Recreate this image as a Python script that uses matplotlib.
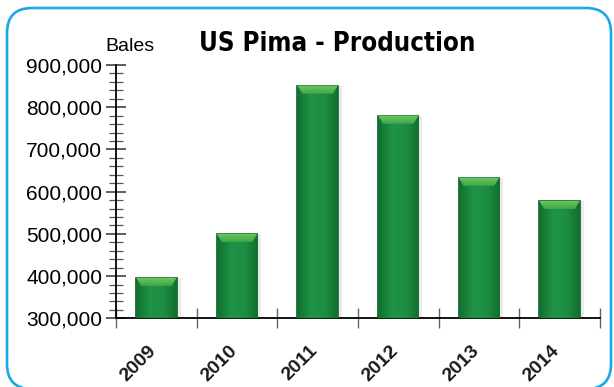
import numpy as np
import matplotlib
matplotlib.use("Agg")
import matplotlib.pyplot as plt
import matplotlib.transforms as mtransforms
from matplotlib.patches import FancyBboxPatch, Polygon
from matplotlib.colors import LinearSegmentedColormap
from matplotlib.ticker import FuncFormatter, MultipleLocator

years = ["2009", "2010", "2011", "2012", "2013", "2014"]
bales = [396000, 500000, 851000, 780000, 633000, 578000]

plt.rcParams['font.family'] = ['Liberation Sans', 'DejaVu Sans']

fig = plt.figure(figsize=(6.14, 3.87), dpi=100)
ax = fig.add_axes([0.189, 0.1775, 0.788, 0.6545])

# rounded frame around the whole chart (pixel coords)
frame = FancyBboxPatch((7, -2), 604, 381, boxstyle="round,pad=0,rounding_size=25",
                       transform=None, fill=False, edgecolor='#1ba8e4', linewidth=1.9)
fig.patches.append(frame)

x = np.arange(len(years))
bars = ax.bar(x, bales, width=0.5, bottom=0, color='#1b8a3f', edgecolor='#0e5f27',
              linewidth=1.2, zorder=3)

# soft shadow behind each bar
ax.bar(x + 0.02, bales, width=0.56, color='#c8c8c8', alpha=0.35, linewidth=0, zorder=2)

# horizontal shading across each bar
shade = LinearSegmentedColormap.from_list('shade', ['#126f2f', '#1f9347', '#1d8f43', '#126f2f'])
grad = np.linspace(0, 1, 64).reshape(1, -1)
bevel_h = 19000
bevel = LinearSegmentedColormap.from_list('bevel', ['#3ea848', '#6cc85e'])
vgrad = np.linspace(0, 1, 32).reshape(-1, 1)
for b in bars:
    x0, w, h = b.get_x(), b.get_width(), b.get_height()
    im = ax.imshow(grad, extent=[x0, x0 + w, 300000, h], aspect='auto', cmap=shade,
                   zorder=3.5, interpolation='bicubic')
    im.set_clip_path(b)
    # light bevel on top of the bar
    inset = w * 0.12
    top = Polygon([(x0, h), (x0 + w, h), (x0 + w - inset, h - bevel_h), (x0 + inset, h - bevel_h)],
                  closed=True, facecolor='none', edgecolor='none', zorder=4)
    ax.add_patch(top)
    bim = ax.imshow(vgrad, extent=[x0, x0 + w, h - bevel_h, h], aspect='auto', cmap=bevel,
                    origin='lower', zorder=4, interpolation='bicubic')
    bim.set_clip_path(top)

ax.set_xlim(-0.5, len(years) - 0.5)
ax.set_ylim(300000, 900000)

ax.spines['top'].set_visible(False)
ax.spines['right'].set_visible(False)
ax.spines['left'].set_linewidth(1.3)
ax.spines['bottom'].set_linewidth(1.3)

ax.yaxis.set_major_locator(MultipleLocator(100000))
ax.yaxis.set_minor_locator(MultipleLocator(20000))
ax.yaxis.set_major_formatter(FuncFormatter(lambda v, p: f"{int(v):,}"))
ax.tick_params(axis='y', which='major', direction='inout', length=14, width=1.1,
               color='#333333', labelsize=15, pad=3)
ax.tick_params(axis='y', which='minor', direction='inout', length=10, width=0.9, color='#555555')

ax.set_xticks(x)
ax.set_xticklabels(years, rotation=45, ha='right', rotation_mode='anchor')
ax.set_xticks(np.arange(len(years) + 1) - 0.5, minor=True)
ax.tick_params(axis='x', which='major', length=0, labelsize=14, pad=17)
ax.tick_params(axis='x', which='minor', direction='inout', length=14, width=1.0, color='#666666')
shift = mtransforms.ScaledTranslation(-6 / 72, 0, fig.dpi_scale_trans)
for lbl in ax.get_xticklabels():
    lbl.set_fontweight('bold')
    lbl.set_color('#1a1a1a')
    lbl.set_transform(lbl.get_transform() + shift)

fig.text(0.212, 0.881, "Bales", fontsize=14, ha='center', va='center')
fig.text(0.549, 0.886, "US Pima - Production", fontsize=18.5, fontweight='heavy',
         fontstretch='condensed', family=['DejaVu Sans'], ha='center', va='center')

fig.savefig("out.png", dpi=100)
